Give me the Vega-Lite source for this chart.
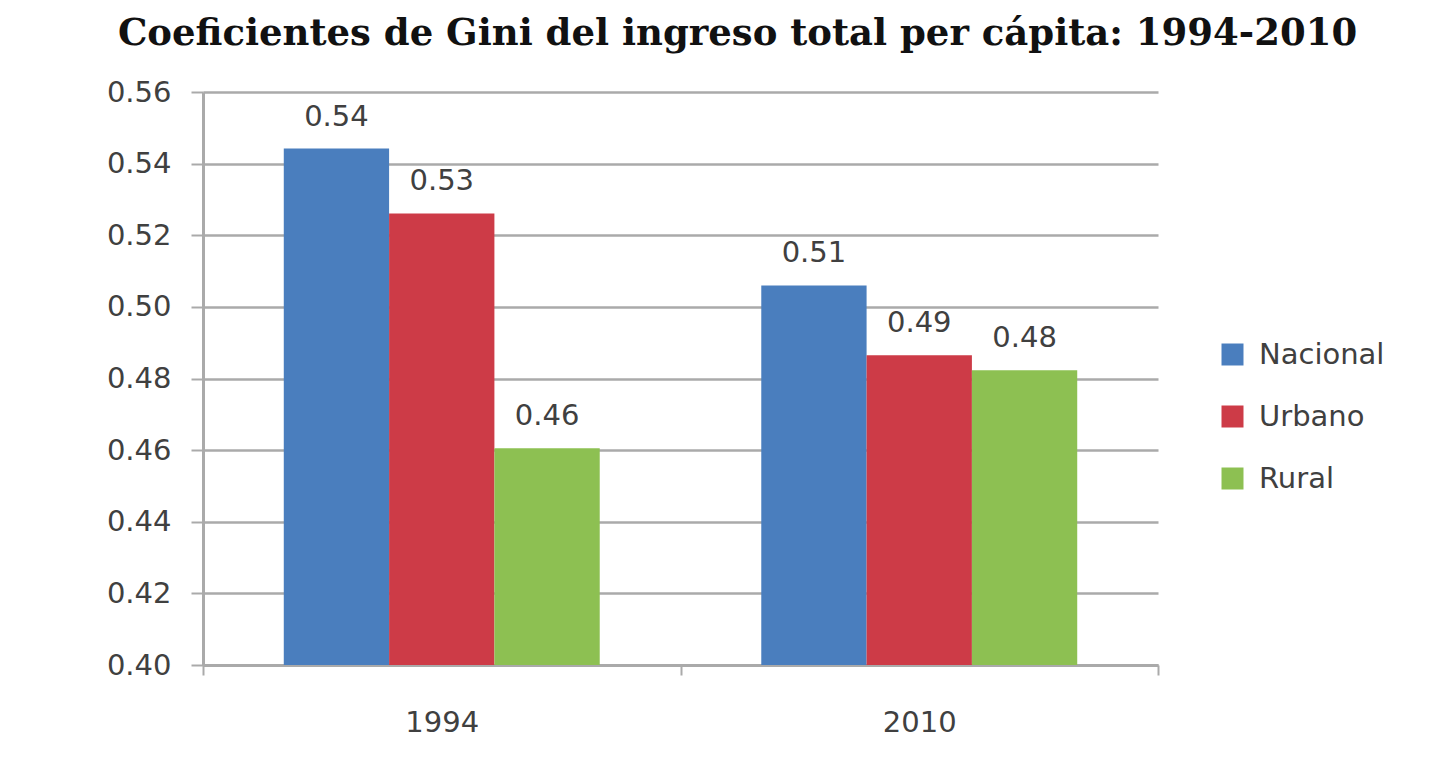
{
  "$schema": "https://vega.github.io/schema/vega-lite/v6.json",
  "width": 955,
  "height": 573,
  "autosize": {"type": "none"},
  "padding": {"left": 203, "top": 92, "right": 283, "bottom": 113},
  "background": "white",
  "config": {"view": {"stroke": null}},
  "title": {
    "text": "Coeficientes de Gini del ingreso total per cápita: 1994-2010",
    "font": "DejaVu Serif",
    "fontSize": 37,
    "fontWeight": "bold",
    "color": "#111111",
    "anchor": "middle",
    "frame": "group",
    "dx": 57,
    "baseline": "alphabetic",
    "offset": -4
  },
  "data": {
    "values": [
      {"year": "1994", "area": "Nacional", "gini": 0.5442},
      {"year": "1994", "area": "Urbano", "gini": 0.5261},
      {"year": "1994", "area": "Rural", "gini": 0.4605},
      {"year": "2010", "area": "Nacional", "gini": 0.506},
      {"year": "2010", "area": "Urbano", "gini": 0.4865},
      {"year": "2010", "area": "Rural", "gini": 0.4823}
    ]
  },
  "encoding": {
    "x": {
      "field": "year",
      "type": "nominal",
      "title": null,
      "scale": {"paddingInner": 0, "paddingOuter": 0},
      "axis": {
        "labelAngle": 0,
        "labelFont": "DejaVu Sans",
        "labelFontSize": 29,
        "labelColor": "#404040",
        "labelPadding": 33,
        "tickBand": "extent",
        "tickSize": 10,
        "tickColor": "#aaaaaa",
        "tickWidth": 2,
        "domainColor": "#aaaaaa",
        "domainWidth": 3
      }
    },
    "xOffset": {"field": "area", "type": "nominal", "sort": ["Nacional", "Urbano", "Rural"], "scale": {"paddingInner": 0, "paddingOuter": 0.767}},
    "y": {
      "field": "gini",
      "type": "quantitative",
      "title": null,
      "scale": {"domain": [0.40, 0.56], "zero": false, "nice": false},
      "axis": {
        "values": [0.40, 0.42, 0.44, 0.46, 0.48, 0.50, 0.52, 0.54, 0.56],
        "format": ".2f",
        "labelFont": "DejaVu Sans",
        "labelFontSize": 29,
        "labelColor": "#404040",
        "labelPadding": 20,
        "tickSize": 12,
        "tickColor": "#aaaaaa",
        "tickWidth": 2,
        "domainColor": "#aaaaaa",
        "domainWidth": 3,
        "grid": true,
        "gridColor": "#aaaaaa",
        "gridWidth": 2.5
      }
    }
  },
  "layer": [
    {
      "mark": {"type": "bar", "clip": true},
      "encoding": {
        "color": {
          "field": "area",
          "type": "nominal",
          "sort": ["Nacional", "Urbano", "Rural"],
          "scale": {"domain": ["Nacional", "Urbano", "Rural"], "range": ["#4a7ebe", "#cd3b47", "#8dc052"]},
          "legend": {
            "title": null,
            "orient": "none",
            "legendX": 1015,
            "legendY": 248,
            "symbolType": "square",
            "symbolSize": 484,
            "symbolStrokeWidth": 0,
            "labelFont": "DejaVu Sans",
            "labelFontSize": 29,
            "labelColor": "#404040",
            "labelOffset": 12,
            "rowPadding": 32,
            "padding": 0
          }
        }
      }
    },
    {
      "mark": {"type": "text", "font": "DejaVu Sans", "fontSize": 29, "color": "#404040", "baseline": "alphabetic", "dy": -23},
      "encoding": {
        "text": {"field": "gini", "type": "quantitative", "format": ".2f"}
      }
    }
  ]
}
